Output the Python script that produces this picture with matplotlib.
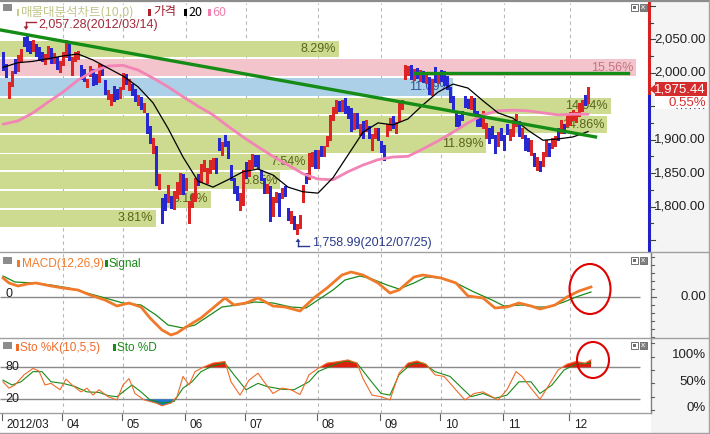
import matplotlib
matplotlib.use('Agg')
import matplotlib.pyplot as plt
import matplotlib.transforms as mtrans
from matplotlib.patches import Rectangle, Ellipse, Polygon
from matplotlib.lines import Line2D
import numpy as np

# ---------------- data ----------------
month_idx = [0, 20, 40, 61, 81, 105, 126, 146, 167, 189]
month_labels = ["2012/03", "04", "05", "06", "07", "08", "09", "10", "11", "12"]

opens = [2026,2010,1968,1984,2018,2005,2022,2050,2052,2045,
         2035,2040,2036,2028,2017,2024,2035,2018,2020,2005,
         2016,2028,2046,2001,2022,2024,2008,2004,1983,1998,
         2003,1995,1988,2008,1986,1964,1955,1978,1972,1965,
         1978,1995,1978,1980,1972,1955,1960,1945,1938,1918,
         1884,1887,1832,1810,1814,1810,1812,1800,1817,1822,
         1845,1828,1787,1805,1812,1845,1840,1857,1839,1854,
         1860,1869,1899,1881,1904,1895,1859,1839,1828,1810,
         1805,1862,1850,1862,1874,1874,1851,1839,1824,1828,
         1790,1810,1817,1817,1828,1795,1780,1783,1762,1772,
         1810,1847,1844,1865,1881,1862,1887,1880,1895,1904,
         1934,1944,1955,1947,1959,1947,1944,1920,1937,1911,
         1925,1917,1917,1897,1907,1914,1895,1889,1910,1918,
         1932,1914,1932,1950,1995,2000,2008,1993,2004,1992,
         2000,1988,1990,1970,2003,1988,2000,2000,1992,1975,
         1962,1940,1934,1940,1962,1958,1950,1959,1940,1936,
         1922,1907,1914,1917,1904,1895,1914,1904,1920,1904,
         1910,1925,1925,1907,1904,1899,1881,1877,1862,1865,
         1865,1880,1892,1892,1895,1914,1914,1920,1925,1926,
         1933,1930,1940,1947,1963,1958]
closes = [2008,1997,1982,2000,2003,2024,2030,2044,2036,2034,
          2046,2028,2022,2021,2025,2037,2018,2026,2009,2014,
          2026,2036,2022,2021,2028,2029,1993,1991,1988,2007,
          1985,1986,2010,1999,1971,1970,1965,1960,1963,1975,
          1997,1986,1986,1970,1962,1962,1950,1950,1914,1899,
          1899,1836,1845,1780,1799,1828,1802,1820,1833,1847,
          1822,1838,1805,1815,1840,1836,1860,1865,1854,1866,
          1869,1854,1887,1892,1895,1877,1844,1824,1814,1817,
          1851,1847,1866,1874,1864,1862,1844,1824,1830,1783,
          1810,1817,1790,1824,1820,1784,1790,1770,1770,1784,
          1828,1839,1877,1877,1862,1880,1880,1887,1902,1934,
          1944,1955,1947,1955,1944,1937,1917,1935,1922,1919,
          1907,1925,1907,1904,1914,1904,1885,1874,1919,1929,
          1922,1922,1952,1955,2008,2006,1995,2002,1996,2000,
          1990,1996,1972,1986,1990,1996,1992,1985,1980,1960,
          1947,1925,1922,1934,1952,1951,1962,1944,1925,1926,
          1940,1922,1899,1907,1884,1907,1904,1889,1912,1912,
          1925,1934,1910,1914,1889,1887,1895,1865,1870,1857,
          1877,1895,1880,1899,1902,1904,1925,1914,1934,1937,
          1940,1938,1951,1955,1956,1975.44]
highs = [2031,2013,1986,2003,2021,2027,2036,2054,2057.28,2048,
         2049,2043,2038,2031,2028,2040,2037,2029,2023,2017,
         2031,2049,2048,2024,2031,2032,2011,2006,1991,2010,
         2005,1998,2013,2011,1989,1974,1968,1980,1975,1979,
         2000,1998,1990,1983,1975,1966,1963,1954,1940,1921,
         1903,1890,1849,1813,1818,1832,1815,1823,1836,1850,
         1848,1842,1808,1818,1843,1849,1863,1869,1858,1870,
         1873,1872,1902,1896,1907,1898,1862,1842,1831,1820,
         1854,1866,1869,1878,1877,1877,1855,1842,1834,1831,
         1814,1821,1820,1828,1831,1798,1794,1786,1774,1788,
         1832,1850,1880,1881,1884,1884,1890,1891,1906,1937,
         1948,1959,1958,1959,1962,1950,1947,1940,1940,1923,
         1928,1929,1920,1908,1918,1917,1898,1892,1923,1933,
         1935,1926,1955,1959,2012,2010,2011,2006,2007,2004,
         2003,2000,1993,1990,2008,2000,2004,2003,1995,1978,
         1965,1943,1937,1943,1965,1961,1965,1962,1943,1939,
         1943,1925,1917,1920,1907,1911,1917,1907,1923,1916,
         1929,1938,1928,1918,1907,1902,1899,1880,1874,1868,
         1881,1899,1895,1903,1906,1917,1929,1923,1938,1941,
         1944,1942,1955,1959,1966,1979]
lows = [2004,1993,1962,1980,2000,2003,2018,2040,2033,2030,
        2032,2025,2019,2017,2013,2021,2014,2015,2005,2001,
        2012,2024,2019,1996,2018,2020,1990,1988,1978,1995,
        1982,1983,1986,1996,1968,1960,1952,1957,1960,1962,
        1975,1983,1974,1966,1958,1951,1946,1941,1910,1895,
        1880,1832,1826,1776,1795,1806,1798,1796,1813,1818,
        1818,1824,1775,1800,1808,1832,1837,1853,1835,1850,
        1856,1850,1884,1877,1891,1873,1840,1820,1810,1795,
        1802,1843,1846,1858,1860,1858,1840,1820,1820,1779,
        1786,1806,1786,1813,1816,1780,1776,1766,1758.99,1768,
        1806,1835,1841,1861,1858,1858,1876,1876,1891,1900,
        1930,1940,1943,1943,1940,1933,1913,1916,1918,1907,
        1903,1913,1903,1884,1903,1900,1881,1870,1906,1914,
        1918,1910,1928,1946,1991,1996,1991,1989,1992,1988,
        1986,1984,1968,1966,1986,1984,1988,1981,1976,1956,
        1943,1921,1918,1930,1948,1947,1946,1940,1921,1920,
        1918,1903,1895,1903,1880,1891,1900,1885,1908,1900,
        1906,1921,1906,1903,1885,1883,1877,1861,1855,1853,
        1861,1876,1876,1888,1891,1900,1910,1910,1921,1922,
        1929,1926,1936,1943,1952,1954]

ma_idx = list(range(0, 196, 5))
ma20 = [2008,2015,2017,2021,2025,2028,2019,2007,1995,1979,
        1955,1917,1874,1838,1829,1840,1852,1856,1847,1829,
        1822,1820,1843,1877,1911,1925,1922,1931,1952,1971,
        1983,1977,1958,1940,1932,1914,1899,1901,1904,1912]
ma60 = [1923,1928,1940,1956,1971,1989,2002,2010,2011,2004,
        1992,1979,1964,1950,1937,1920,1904,1889,1875,1862,
        1849,1841,1840,1852,1862,1870,1874,1875,1886,1898,
        1911,1925,1937,1943,1944,1943,1940,1937,1938,1938]

band_pct = [8.29, 15.56, 11.09, 14.94, 14.86, 11.89, 7.54, 6.85, 5.16, 3.81]
band_top = [2048, 2020.5, 1992, 1962.5, 1935, 1907, 1878.5, 1851.5, 1823, 1795]
band_bot = [2023, 1995, 1965, 1938, 1909.5, 1880.5, 1854.5, 1826, 1798, 1770]

trend_x = [-1, 197.5]
trend_y = [2064, 1904]
level_x = [137.3, 208.3]
level_y = [2000, 2000]

hi_idx, hi_val, hi_label = 8, 2057.28, "2,057.28(2012/03/14)"
lo_idx, lo_val, lo_label = 98, 1758.99, "1,758.99(2012/07/25)"
change_pct = 0.55
price_ticks = [2050, 2000, 1900, 1850, 1800]

macd_idx = [0,2,5,8,11,16,20,25,29,34,38,42,46,49,53,56,58,61,66,70,74,77,81,85,
            90,94,99,104,108,113,116,120,125,129,132,137,140,146,151,155,160,164,
            168,172,176,179,184,188,192,196]
macd = [19,14,11,13,14,11,9,7,2,-3,-9,-6,-10,-21,-33,-38,-36,-30,-21,-11,-1,-8,-6,-1,
        -9,-10,-14,0,9,22,25,22,14,4,7,20,22,19,14,1,-1,-11,
        -10,-6,-9,-12,-8,0,6,10]
sig_idx = [0,4,10,16,22,28,34,40,46,51,55,60,64,69,73,78,84,90,96,101,105,110,114,
           119,123,128,132,137,141,146,151,157,163,167,173,178,182,187,191,196]
signal = [21,15,14,12,9,4,-1,-6,-8,-18,-28,-31,-28,-18,-10,-8,-5,-6,-10,-11,-3,7,17,
          21,18,12,8,14,20,19,14,5,-3,-9,-8,-10,-10,-5,0,5]

k_idx = [0,2,4,7,10,12,14,16,19,21,23,26,28,30,32,35,38,40,42,44,47,51,53,56,58,60,
         62,64,67,70,74,76,79,82,85,87,90,93,96,99,102,105,108,112,115,118,120,123,
         126,129,132,135,138,141,144,147,150,152,154,157,160,163,165,168,171,173,176,
         179,182,185,188,191,194,196]
stoch_k = [53,41,47,66,78,73,47,50,38,58,47,34,41,28,38,25,19,47,59,31,19,13,8,13,25,63,
           47,72,81,88,91,53,28,56,69,53,31,41,38,29,66,78,88,91,94,88,59,28,
           25,19,69,88,92,86,66,63,44,31,19,31,34,25,19,38,72,63,41,
           20,47,75,86,91,88,94]
d_idx = [0,3,6,10,13,16,20,24,28,32,35,38,43,46,49,53,57,60,63,66,70,74,77,81,85,88,
         93,97,102,105,110,114,118,122,126,129,132,136,140,144,149,153,156,160,164,
         168,172,176,179,183,187,191,196]
stoch_d = [56,47,53,72,72,53,50,44,34,33,27,25,47,34,19,13,16,41,53,72,83,88,66,38,50,44,
           39,38,53,72,84,92,88,59,31,28,66,86,88,72,63,41,25,31,22,
           28,53,53,31,47,75,86,88]

# ---------------- figure ----------------
W, H = 710, 434
fig = plt.figure(figsize=(W / 100, H / 100), dpi=100)
fig.patch.set_facecolor('white')
LAT = ['Liberation Sans', 'DejaVu Sans']
KR = ['Noto Sans CJK KR', 'DejaVu Sans']
plt.rcParams['font.family'] = LAT

def fx(x): return x / W
def fy(y): return 1 - y / H
def axrect(x0, y0, x1, y1): return [fx(x0), fy(y1), (x1 - x0) / W, (y1 - y0) / H]
def fline(x0, y0, x1, y1, **kw):
    fig.add_artist(Line2D([fx(x0), fx(x1)], [fy(y0), fy(y1)], transform=fig.transFigure, **kw))
def frect(x0, y0, x1, y1, **kw):
    fig.add_artist(Rectangle((fx(x0), fy(y1)), (x1 - x0) / W, (y1 - y0) / H,
                             transform=fig.transFigure, **kw))
def ftext(x, y, s, **kw):
    fig.text(fx(x), fy(y), s, **kw)

# light grey right-hand scale column
frect(651, 2, 709, 433, fc='#f4f4f4', ec='none', zorder=0)

ax = fig.add_axes(axrect(0, 3, 648, 251))
axm = fig.add_axes(axrect(0, 252, 648, 337))
axs = fig.add_axes(axrect(0, 338, 648, 413))
for a in (ax, axm, axs):
    a.set_xlim(-1, 215)
    a.set_xticks([]); a.set_yticks([])
    for s in a.spines.values():
        s.set_visible(False)
    a.patch.set_alpha(0)
ax.set_ylim(1733.5, 2104.2)
axm.set_ylim(-40, 45)
axs.set_ylim(-5.6, 135.1)

GRID = dict(color='#b8b8b8', lw=0.8, ls=(0, (3, 3)), zorder=0)
for m in month_idx[1:]:
    for a in (ax, axm, axs):
        a.axvline(m, **GRID)

# ---- volume profile bands ----
RED = '#dc2626'
BLUE = '#2828d0'
last_close = closes[-1]
prev_close = last_close / (1 + change_pct / 100)
imax = int(np.argmax(band_pct))
bt = mtrans.blended_transform_factory(ax.transAxes, ax.transData)
maxfrac = 636 / 648
for i, (p, top, bot) in enumerate(zip(band_pct, band_top, band_bot)):
    if i == imax:
        fc, tc = '#f4c4cc', '#c27480'
    elif bot <= last_close <= top + 3:
        fc, tc = '#abd0e8', '#2c5a96'
    else:
        fc, tc = '#ccdb90', '#5a6418'
    frac = p / max(band_pct) * maxfrac
    ax.add_patch(Rectangle((0, bot), frac, top - bot, transform=bt, fc=fc, ec='none', zorder=1))
    ax.text(frac - 0.004, (top + bot) / 2, f"{p:.2f}%", transform=bt, ha='right', va='center',
            fontsize=9, color=tc, zorder=1.5)

# ---- candles ----
idx = np.arange(len(closes))
o = np.array(opens, float); c = np.array(closes, float)
h = np.array(highs, float); l = np.array(lows, float)
cols = np.where(c >= o, RED, BLUE)
ax.vlines(idx, l, h, colors=cols, lw=0.9, zorder=2, antialiased=False)
ax.bar(idx, np.maximum(np.abs(c - o), 1.5), bottom=np.minimum(o, c), width=0.72,
       color=cols, lw=0, zorder=2.1, antialiased=False)

# ---- moving averages & lines ----
ax.plot(ma_idx, ma60, color='#f284b6', lw=2.0, zorder=3, solid_capstyle='round')
ax.plot(ma_idx, ma20, color='black', lw=0.9, zorder=3.1)
ax.plot(trend_x, trend_y, color='#158c15', lw=2.4, zorder=4)
ax.plot(level_x, level_y, color='#158c15', lw=2.4, zorder=4)

# ---- hi / lo annotations ----
def to_px(a, x, y):
    X, Y = a.transData.transform((x, y))
    return X, H - Y
hx, hy = to_px(ax, hi_idx, hi_val)
fline(hx - 1, hy - 12, hx + 9, hy - 12, color='#a02838', lw=1)
fline(hx - 1, hy - 12, hx - 1, hy - 7, color='#a02838', lw=1)
fig.add_artist(Polygon([[fx(hx - 3.5), fy(hy - 8)], [fx(hx + 1.5), fy(hy - 8)], [fx(hx - 1), fy(hy - 4.5)]],
                       closed=True, transform=fig.transFigure, fc='#a02838', ec='none'))
ftext(hx + 11, hy - 9.5, hi_label, fontsize=9, color='#a02838', va='center', ha='left')
lx, ly = to_px(ax, lo_idx, lo_val)
fline(lx + 1, ly + 12, lx + 12, ly + 12, color='#2a3a8a', lw=1)
fline(lx + 1, ly + 12, lx + 1, ly + 7, color='#2a3a8a', lw=1)
fig.add_artist(Polygon([[fx(lx - 1.5), fy(ly + 8)], [fx(lx + 3.5), fy(ly + 8)], [fx(lx + 1), fy(ly + 4.5)]],
                       closed=True, transform=fig.transFigure, fc='#2a3a8a', ec='none'))
ftext(lx + 15, ly + 9, lo_label, fontsize=9, color='#2a3a8a', va='center', ha='left')

# ---- MACD ----
axm.hlines(0, -1, 212.3, color='#8a8a8a', lw=1, zorder=1)
axm.plot(sig_idx, signal, color='#1a8a1a', lw=0.9, zorder=2)
axm.plot(macd_idx, macd, color='#f07a2a', lw=2.0, zorder=3)

# ---- Stochastic ----
axs.hlines([80, 20], -1, 212.3, color='#8a8a8a', lw=1, zorder=1)
ki = np.array(k_idx, float); kv = np.array(stoch_k, float)
axs.fill_between(ki, 80, kv, where=kv > 80, interpolate=True, color='#e01e10', lw=0, zorder=1.5)
axs.fill_between(ki, 20, kv, where=kv < 20, interpolate=True, color='#1e78d2', lw=0, zorder=1.5)
axs.plot(d_idx, stoch_d, color='#1a8a1a', lw=0.8, zorder=2)
axs.plot(k_idx, stoch_k, color='#f06a28', lw=0.8, zorder=3)

# ---- red circles ----
fig.add_artist(Ellipse((fx(590), fy(289)), 41 / W, 50 / H, transform=fig.transFigure,
                       fill=False, ec='#e00000', lw=1.5))
fig.add_artist(Ellipse((fx(593), fy(360)), 32 / W, 36 / H, transform=fig.transFigure,
                       fill=False, ec='#e00000', lw=1.5))

# ---- right axes ----
AXF = 9.5
bR = mtrans.blended_transform_factory(fig.transFigure, ax.transData)
ylo, yhi = ax.get_ylim()
ax.add_line(Line2D([fx(648.5)] * 2, [prev_close, yhi], transform=bR, color='#d82020', lw=2.2, clip_on=False))
ax.add_line(Line2D([fx(648.5)] * 2, [ylo, prev_close], transform=bR, color='#2020c8', lw=2.2, clip_on=False))
for p in range(1750, 2101, 25):
    ln = 5 if p % 50 == 0 else 3
    ax.add_line(Line2D([fx(650), fx(650 + ln)], [p, p], transform=bR, color='#404040', lw=0.8, clip_on=False))
for p in price_ticks:
    ax.text(fx(706), p, f"{p:,.2f}", transform=bR, ha='right', va='center', fontsize=AXF,
            color='#202020', clip_on=False)
# current price tag and change
yc = to_px(ax, 0, last_close)[1]
frect(655, yc + 7, 707, yc + 19.5, fc='white', ec='none')
frect(655, yc - 7, 707, yc + 7, fc='#d42c2c', ec='none')
fig.add_artist(Polygon([[fx(649.5), fy(yc)], [fx(655.5), fy(yc - 5)], [fx(655.5), fy(yc + 5)]],
                       closed=True, transform=fig.transFigure, fc='#d42c2c', ec='none'))
ftext(706, yc, f"{last_close:,.2f}", ha='right', va='center', fontsize=AXF, color='white')
ftext(706, yc + 13.5, f"{change_pct:.2f}%", ha='right', va='center', fontsize=AXF, color='#d42c2c')
# dotted remnant of the hidden 1,950 label under the change box
fline(676, yc + 19, 705, yc + 19, color='#404040', lw=0.8, ls=(0, (1, 3)))

bM = mtrans.blended_transform_factory(fig.transFigure, axm.transData)
axm.add_line(Line2D([fx(651)] * 2, [-40, 45], transform=bM, color='#808080', lw=1, clip_on=False))
for v in range(-40, 45, 8):
    axm.add_line(Line2D([fx(651), fx(654)], [v, v], transform=bM, color='#606060', lw=0.8, clip_on=False))
axm.add_line(Line2D([fx(651), fx(656)], [0, 0], transform=bM, color='#606060', lw=0.8, clip_on=False))
axm.text(fx(706), 0, "0.00", transform=bM, ha='right', va='center', fontsize=AXF, color='#202020')
axm.text(fx(5), 3, "0", transform=bM, ha='left', va='center', fontsize=9, color='#202020')

bS = mtrans.blended_transform_factory(fig.transFigure, axs.transData)
axs.add_line(Line2D([fx(651)] * 2, [-5.6, 135], transform=bS, color='#808080', lw=1, clip_on=False))
for v in range(0, 126, 25):
    axs.add_line(Line2D([fx(651), fx(654)], [v, v], transform=bS, color='#606060', lw=0.8, clip_on=False))
for v, s in [(100, "100%"), (50, "50%"), (0, "0%")]:
    axs.text(fx(706), v + 3, s, transform=bS, ha='right', va='center', fontsize=AXF, color='#202020')
axs.text(fx(5), 80, "80", transform=bS, ha='left', va='center', fontsize=9, color='#202020')
axs.text(fx(5), 20, "20", transform=bS, ha='left', va='center', fontsize=9, color='#202020')

# ---- date axis ----
bD = mtrans.blended_transform_factory(ax.transData, fig.transFigure)
for m, s in zip(month_idx, month_labels):
    fig.add_artist(Line2D([m - 0.3, m - 0.3], [fy(413), fy(420)], transform=bD, color='#606060', lw=0.8))
    fig.text(m + 1.2, fy(425), s, transform=bD, ha='left', va='center', fontsize=8.5, color='#202020')

# ---- frames ----
fline(0, 1, W, 1, color='#8c8c8c', lw=1.6)
fline(0, 252, W, 252, color='#a0a0a0', lw=1)
fline(0, 337.5, W, 337.5, color='#a0a0a0', lw=1)
fline(0, 413, 651, 413, color='#a0a0a0', lw=1)
fline(0, 433, W, 433, color='#a0a0a0', lw=1)
fline(709, 0, 709, H, color='#a0a0a0', lw=1)

# ---- legends ----
def icon(y):
    frect(3, y, 12, y + 6.5, fc='#8c8c8c', ec='none')
def winbtns(y):
    frect(631, y, 638, y + 7, fc='white', ec='#707070', lw=0.7)
    frect(633, y + 2, 636, y + 5, fc='#707070', ec='none')
    frect(640, y, 647, y + 7, fc='#808080', ec='#707070', lw=0.7)
    ftext(643.5, y + 3.5, "x", ha='center', va='center', fontsize=6, color='white')

LEGF = 8.5
icon(4)
winbtns(4)
frect(16.5, 9, 19, 15.5, fc='#c8cc8c', ec='none')
ftext(21, 12, "매물대분석차트(10,0)", family=KR, fontsize=9, color='#c2c68a', va='center')
frect(148, 9, 151, 15.5, fc='#b02030', ec='none')
ftext(153, 12, "가격", family=KR, fontsize=9, color='#a02030', va='center')
frect(184, 9, 187, 15.5, fc='black', ec='none')
ftext(188, 12, "20", family=KR, fontsize=9, color='black', va='center')
frect(208, 9, 211, 15.5, fc='#f080b0', ec='none')
ftext(212, 12, "60", family=KR, fontsize=9, color='#f080b0', va='center')

icon(257)
winbtns(257)
frect(17, 260, 19.5, 267, fc='#f07a2a', ec='none')
ftext(22, 264, "MACD(12,26,9)", fontsize=LEGF, color='#f07a2a', va='center')
frect(105, 260, 107.5, 267, fc='#1a8a1a', ec='none')
ftext(109, 264, "Signal", fontsize=LEGF, color='#1a8a1a', va='center')

icon(342)
winbtns(342)
frect(16, 344, 18.5, 351, fc='#f06a28', ec='none')
ftext(20, 348, "Sto %K(10,5,5)", fontsize=LEGF, color='#f06a28', va='center')
frect(113, 344, 115.5, 351, fc='#1a8a1a', ec='none')
ftext(117, 348, "Sto %D", fontsize=LEGF, color='#1a8a1a', va='center')

fig.savefig('out.png', dpi=100, facecolor='white')
